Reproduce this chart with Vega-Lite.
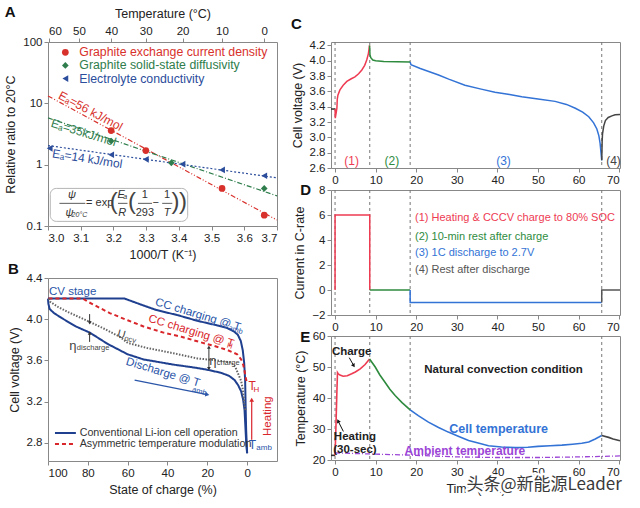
{
"$schema": "https://vega.github.io/schema/vega-lite/v6.json",
"padding": {"left": 4, "top": 4, "right": 4, "bottom": 2},
"background": "white",
"datasets": {
"aPts": [
{"x":3.193,"y":3.6,"s":"r"},{"x":3.299,"y":1.7,"s":"r"},{"x":3.532,"y":0.41,"s":"r"},{"x":3.661,"y":0.15,"s":"r"},
{"x":3.193,"y":2.43,"s":"g"},{"x":3.377,"y":1.07,"s":"g"},{"x":3.661,"y":0.41,"s":"g"},
{"x":3.005,"y":1.85,"s":"b"},{"x":3.193,"y":1.45,"s":"b"},{"x":3.299,"y":1.22,"s":"b"},{"x":3.411,"y":1.02,"s":"b"},{"x":3.532,"y":0.82,"s":"b"},{"x":3.661,"y":0.66,"s":"b"}
],
"aFit": [
{"x":3.0,"y":13.2,"s":"r"},{"x":3.7,"y":0.125,"s":"r"},
{"x":3.0,"y":5.8,"s":"g"},{"x":3.7,"y":0.31,"s":"g"},
{"x":3.0,"y":2.05,"s":"b"},{"x":3.7,"y":0.61,"s":"b"}
],
"aLeg": [
{"x":3.053,"y":68,"s":"r","t":"Graphite exchange current density"},
{"x":3.053,"y":41.5,"s":"g","t":"Graphite solid-state diffusivity"},
{"x":3.053,"y":25.3,"s":"b","t":"Electrolyte conductivity"}
],
"aEa": [
{"x":3.13,"y":7.5,"s":"r","t":"Eₐ=56 kJ/mol"},
{"x":3.109,"y":3.33,"s":"g","t":"Eₐ=35kJ/mol"},
{"x":3.12,"y":1.25,"s":"b","t":"Eₐ=14 kJ/mol"}
],
"aBox": [{"x":3.007,"x2":3.427,"y":0.119,"y2":0.41}],
"aF": [
{"x":3.073,"y":0.32,"t":"ψ","k":"i"},
{"x":3.066,"y":0.165,"t":"ψ","k":"i"},
{"x":3.158,"y":0.234,"t":"= exp","k":"n"},
{"x":3.224,"y":0.32,"t":"E","k":"i"},
{"x":3.227,"y":0.165,"t":"R","k":"i"},
{"x":3.296,"y":0.32,"t":"1","k":"n"},
{"x":3.296,"y":0.165,"t":"293","k":"n"},
{"x":3.329,"y":0.234,"t":"−","k":"n"},
{"x":3.364,"y":0.32,"t":"1","k":"n"},
{"x":3.364,"y":0.165,"t":"T","k":"i"},
{"x":3.201,"y":0.234,"t":"(","k":"p"},
{"x":3.257,"y":0.234,"t":"(","k":"p"},
{"x":3.390,"y":0.234,"t":")","k":"p"},
{"x":3.413,"y":0.234,"t":")","k":"p"},
{"x":3.096,"y":0.153,"t":"20°C","k":"s"},
{"x":3.236,"y":0.295,"t":"a","k":"s"}
],
"aFr": [
{"x":3.035,"x2":3.114,"y":0.234},
{"x":3.214,"x2":3.243,"y":0.234},
{"x":3.275,"x2":3.318,"y":0.234},
{"x":3.349,"x2":3.380,"y":0.234}
],
"bCur": [
{"soc":0,"bv":2.70,"c":"cc"},{"soc":0.5,"bv":2.93,"c":"cc"},{"soc":0.8,"bv":3.2,"c":"cc"},{"soc":1.0,"bv":3.41,"c":"cc"},{"soc":1.5,"bv":3.58,"c":"cc"},{"soc":2.2,"bv":3.70,"c":"cc"},{"soc":3.2,"bv":3.79,"c":"cc"},{"soc":4.7,"bv":3.85,"c":"cc"},{"soc":6.5,"bv":3.88,"c":"cc"},{"soc":10,"bv":3.915,"c":"cc"},{"soc":15,"bv":3.94,"c":"cc"},{"soc":25,"bv":3.985,"c":"cc"},{"soc":35,"bv":4.04,"c":"cc"},{"soc":45.7,"bv":4.09,"c":"cc"},{"soc":53,"bv":4.14,"c":"cc"},{"soc":61.5,"bv":4.2,"c":"cc"},{"soc":100,"bv":4.2,"c":"cc"},
{"soc":100,"bv":4.2,"c":"cd"},{"soc":99.8,"bv":4.15,"c":"cd"},{"soc":99.2,"bv":4.1,"c":"cd"},{"soc":97,"bv":4.06,"c":"cd"},{"soc":93,"bv":4.01,"c":"cd"},{"soc":86,"bv":3.93,"c":"cd"},{"soc":79,"bv":3.87,"c":"cd"},{"soc":70,"bv":3.76,"c":"cd"},{"soc":65,"bv":3.71,"c":"cd"},{"soc":60,"bv":3.66,"c":"cd"},{"soc":52,"bv":3.61,"c":"cd"},{"soc":43,"bv":3.58,"c":"cd"},{"soc":37,"bv":3.56,"c":"cd"},{"soc":26,"bv":3.53,"c":"cd"},{"soc":20,"bv":3.51,"c":"cd"},{"soc":13,"bv":3.48,"c":"cd"},{"soc":9,"bv":3.45,"c":"cd"},{"soc":6.3,"bv":3.41,"c":"cd"},{"soc":4.5,"bv":3.36,"c":"cd"},{"soc":3,"bv":3.30,"c":"cd"},{"soc":2,"bv":3.22,"c":"cd"},{"soc":1.3,"bv":3.12,"c":"cd"},{"soc":0.8,"bv":2.93,"c":"cd"},{"soc":0.4,"bv":2.78,"c":"cd"},{"soc":0,"bv":2.70,"c":"cd"},
{"soc":0.3,"bv":3.40,"c":"ac"},{"soc":0.8,"bv":3.44,"c":"ac"},{"soc":1.3,"bv":3.50,"c":"ac"},{"soc":2,"bv":3.56,"c":"ac"},{"soc":3,"bv":3.61,"c":"ac"},{"soc":5,"bv":3.66,"c":"ac"},{"soc":9.7,"bv":3.70,"c":"ac"},{"soc":16.4,"bv":3.74,"c":"ac"},{"soc":24,"bv":3.78,"c":"ac"},{"soc":33,"bv":3.83,"c":"ac"},{"soc":42,"bv":3.87,"c":"ac"},{"soc":52,"bv":3.93,"c":"ac"},{"soc":60,"bv":3.99,"c":"ac"},{"soc":69,"bv":4.06,"c":"ac"},{"soc":75,"bv":4.12,"c":"ac"},{"soc":80,"bv":4.17,"c":"ac"},{"soc":82.4,"bv":4.2,"c":"ac"},{"soc":100,"bv":4.2,"c":"ac"},
{"soc":99.5,"bv":4.2,"c":"ocv"},{"soc":99,"bv":4.17,"c":"ocv"},{"soc":95,"bv":4.12,"c":"ocv"},{"soc":90,"bv":4.07,"c":"ocv"},{"soc":80.8,"bv":3.99,"c":"ocv"},{"soc":72,"bv":3.91,"c":"ocv"},{"soc":64,"bv":3.83,"c":"ocv"},{"soc":59.9,"bv":3.77,"c":"ocv"},{"soc":50,"bv":3.72,"c":"ocv"},{"soc":37,"bv":3.67,"c":"ocv"},{"soc":25,"bv":3.62,"c":"ocv"},{"soc":15,"bv":3.60,"c":"ocv"},{"soc":8,"bv":3.58,"c":"ocv"},{"soc":6,"bv":3.54,"c":"ocv"},{"soc":4.7,"bv":3.48,"c":"ocv"},{"soc":3,"bv":3.40,"c":"ocv"},{"soc":2.2,"bv":3.32,"c":"ocv"},{"soc":1.3,"bv":3.16,"c":"ocv"},{"soc":0.8,"bv":3.12,"c":"ocv"}
],
"bLeg": [
{"soc":96.5,"soc2":86,"bv":2.897,"c":"cc","t":"Conventional Li-ion cell operation"},
{"soc":96.5,"soc2":86,"bv":2.79,"c":"ac","t":"Asymmetric temperature modulation"}
],
"bT": [
{"soc":99.5,"bv":4.26,"t":"CV stage","k":"b0"},
{"soc":24.7,"bv":4.04,"t":"CC charging @ T","k":"bA"},
{"soc":42.3,"bv":3.48,"t":"Discharge @ T","k":"bA"},
{"soc":5.8,"bv":3.895,"t":"amb","k":"bAs"},
{"soc":24.0,"bv":3.30,"t":"amb","k":"bAs"},
{"soc":28.1,"bv":3.88,"t":"CC charging @ T","k":"rA"},
{"soc":8.8,"bv":3.74,"t":"H","k":"rAs"},
{"soc":63.2,"bv":3.85,"t":"U","k":"gA"},
{"soc":58.7,"bv":3.80,"t":"ocv","k":"gAs"},
{"soc":87.5,"bv":3.745,"t":"η","k":"g0"},
{"soc":17.2,"bv":3.595,"t":"η","k":"g0"},
{"soc":85.5,"bv":3.72,"t":"discharge","k":"g0s"},
{"soc":15.3,"bv":3.575,"t":"charge","k":"g0s"},
{"soc":-2.5,"bv":3.35,"t":"T","k":"r0"},
{"soc":-4.6,"bv":3.315,"t":"H","k":"r0s"},
{"soc":-10.4,"bv":3.06,"t":"Heating","k":"rV"},
{"soc":-2.6,"bv":2.78,"t":"T","k":"b0T"},
{"soc":-4.6,"bv":2.755,"t":"amb","k":"b0s"}
],
"bR": [
{"soc":19.2,"bv":3.52,"soc2":19.2,"bv2":3.73,"k":"g"},
{"soc":79.1,"bv":4.05,"soc2":79.1,"bv2":3.97,"k":"g"},
{"soc":79.1,"bv":3.78,"soc2":79.1,"bv2":3.86,"k":"g"},
{"soc":-2.3,"bv":2.83,"soc2":-2.3,"bv2":3.21,"k":"r"},
{"soc":56.5,"bv":3.41,"soc2":20.5,"bv2":3.272,"k":"b"}
],
"bH": [
{"soc":-2.3,"bv":3.22,"k":"ur"},
{"soc":19.2,"bv":3.73,"k":"ug"},
{"soc":79.1,"bv":3.865,"k":"ug"},
{"soc":19.2,"bv":3.52,"k":"dg"},
{"soc":79.1,"bv":3.965,"k":"dg"},
{"soc":20.0,"bv":3.27,"k":"rb"}
],
"vl": [{"t":0},{"t":8.55},{"t":18.5},{"t":65.7}],
"cLine": [
{"t":-1,"cv":3.37,"p":"p0"},{"t":0,"cv":3.37,"p":"p0"},
{"t":0,"cv":3.37,"p":"p1"},{"t":0.05,"cv":3.25,"p":"p1"},{"t":0.3,"cv":3.33,"p":"p1"},{"t":0.45,"cv":3.38,"p":"p1"},{"t":0.55,"cv":3.5,"p":"p1"},{"t":0.7,"cv":3.55,"p":"p1"},{"t":1.2,"cv":3.62,"p":"p1"},{"t":2,"cv":3.68,"p":"p1"},{"t":2.9,"cv":3.73,"p":"p1"},{"t":4,"cv":3.765,"p":"p1"},{"t":4.9,"cv":3.79,"p":"p1"},{"t":5.8,"cv":3.83,"p":"p1"},{"t":6.6,"cv":3.88,"p":"p1"},{"t":7.3,"cv":3.94,"p":"p1"},{"t":7.8,"cv":4.01,"p":"p1"},{"t":8.2,"cv":4.09,"p":"p1"},{"t":8.5,"cv":4.2,"p":"p1"},
{"t":8.5,"cv":4.2,"p":"p2"},{"t":8.6,"cv":4.08,"p":"p2"},{"t":8.8,"cv":4.04,"p":"p2"},{"t":9.3,"cv":4.01,"p":"p2"},{"t":10,"cv":4.0,"p":"p2"},{"t":12,"cv":3.99,"p":"p2"},{"t":18.5,"cv":3.985,"p":"p2"},
{"t":18.5,"cv":3.985,"p":"p3"},{"t":18.7,"cv":3.95,"p":"p3"},{"t":21,"cv":3.9,"p":"p3"},{"t":25.5,"cv":3.815,"p":"p3"},{"t":28,"cv":3.76,"p":"p3"},{"t":32,"cv":3.68,"p":"p3"},{"t":36,"cv":3.63,"p":"p3"},{"t":39.4,"cv":3.59,"p":"p3"},{"t":43,"cv":3.56,"p":"p3"},{"t":46,"cv":3.53,"p":"p3"},{"t":50,"cv":3.5,"p":"p3"},{"t":54.2,"cv":3.47,"p":"p3"},{"t":57,"cv":3.43,"p":"p3"},{"t":59.2,"cv":3.38,"p":"p3"},{"t":61,"cv":3.33,"p":"p3"},{"t":62.5,"cv":3.27,"p":"p3"},{"t":63.7,"cv":3.19,"p":"p3"},{"t":64.5,"cv":3.11,"p":"p3"},{"t":65,"cv":3.02,"p":"p3"},{"t":65.3,"cv":2.92,"p":"p3"},{"t":65.7,"cv":2.7,"p":"p3"},
{"t":65.7,"cv":2.7,"p":"p4"},{"t":65.8,"cv":2.95,"p":"p4"},{"t":65.9,"cv":3.05,"p":"p4"},{"t":66.2,"cv":3.15,"p":"p4"},{"t":66.6,"cv":3.22,"p":"p4"},{"t":67.3,"cv":3.26,"p":"p4"},{"t":68.2,"cv":3.28,"p":"p4"},{"t":69,"cv":3.295,"p":"p4"},{"t":70.2,"cv":3.3,"p":"p4"}
],
"cLab": [
{"t":4.1,"cv":2.69,"lab":"(1)","p":"p1"},
{"t":14,"cv":2.69,"lab":"(2)","p":"p2"},
{"t":41.5,"cv":2.69,"lab":"(3)","p":"p3"},
{"t":68.6,"cv":2.69,"lab":"(4)","p":"p4"}
],
"dLine": [
{"t":0,"cur":0,"p":"p1"},{"t":0,"cur":6,"p":"p1"},{"t":8.55,"cur":6,"p":"p1"},{"t":8.55,"cur":0,"p":"p1"},
{"t":8.55,"cur":0,"p":"p2"},{"t":18.5,"cur":0,"p":"p2"},
{"t":18.5,"cur":0,"p":"p3"},{"t":18.5,"cur":-1,"p":"p3"},{"t":65.7,"cur":-1,"p":"p3"},
{"t":65.7,"cur":-1,"p":"p4"},{"t":65.7,"cur":0,"p":"p4"},{"t":70.2,"cur":0,"p":"p4"}
],
"dLab": [
{"t":19.7,"cur":5.73,"lab":"(1) Heating & CCCV charge to 80% SOC","p":"p1"},
{"t":19.7,"cur":4.27,"lab":"(2) 10-min rest after charge","p":"p2"},
{"t":19.7,"cur":2.93,"lab":"(3) 1C discharge to 2.7V","p":"p3"},
{"t":19.7,"cur":1.6,"lab":"(4) Rest after discharge","p":"p4"}
],
"dLet": [{"t":-8.6,"cur":8.0,"lab":"D"}],
"eLet": [{"t":-8.6,"temp":59.8,"lab":"E"}],
"eLine": [
{"t":-1,"temp":21.5,"p":"p0"},{"t":0,"temp":21.5,"p":"p0"},
{"t":0,"temp":21.5,"p":"p1"},{"t":0.2,"temp":30,"p":"p1"},{"t":0.45,"temp":42,"p":"p1"},{"t":0.6,"temp":48.2,"p":"p1"},{"t":0.8,"temp":47.8,"p":"p1"},{"t":1.2,"temp":47.4,"p":"p1"},{"t":2,"temp":47,"p":"p1"},{"t":3,"temp":47.2,"p":"p1"},{"t":4.1,"temp":47.8,"p":"p1"},{"t":5,"temp":48.4,"p":"p1"},{"t":6.2,"temp":49.4,"p":"p1"},{"t":7.4,"temp":50.8,"p":"p1"},{"t":8.5,"temp":52.6,"p":"p1"},
{"t":8.5,"temp":52.6,"p":"p2"},{"t":9.9,"temp":50,"p":"p2"},{"t":11,"temp":47.5,"p":"p2"},{"t":12.3,"temp":45.1,"p":"p2"},{"t":13.5,"temp":42.8,"p":"p2"},{"t":14.8,"temp":40.8,"p":"p2"},{"t":16.5,"temp":38.5,"p":"p2"},{"t":18.5,"temp":36.2,"p":"p2"},
{"t":18.5,"temp":36.2,"p":"p3"},{"t":20.5,"temp":34.3,"p":"p3"},{"t":23,"temp":32.2,"p":"p3"},{"t":25.5,"temp":30.5,"p":"p3"},{"t":27.9,"temp":29,"p":"p3"},{"t":30.5,"temp":27.6,"p":"p3"},{"t":32.9,"temp":26.3,"p":"p3"},{"t":35.5,"temp":25.4,"p":"p3"},{"t":37.8,"temp":24.6,"p":"p3"},{"t":41,"temp":24.2,"p":"p3"},{"t":44.4,"temp":24,"p":"p3"},{"t":47.5,"temp":24.1,"p":"p3"},{"t":50,"temp":24.4,"p":"p3"},{"t":53,"temp":24.6,"p":"p3"},{"t":55.9,"temp":24.8,"p":"p3"},{"t":58.5,"temp":25.1,"p":"p3"},{"t":60.8,"temp":25.4,"p":"p3"},{"t":62.5,"temp":25.8,"p":"p3"},{"t":64.1,"temp":26.8,"p":"p3"},{"t":65,"temp":27.4,"p":"p3"},{"t":65.7,"temp":27.9,"p":"p3"},
{"t":65.7,"temp":27.9,"p":"p4"},{"t":67.4,"temp":27.3,"p":"p4"},{"t":68.5,"temp":26.8,"p":"p4"},{"t":70.2,"temp":26.2,"p":"p4"}
],
"eAmb": [
{"t":0,"temp":22.3},{"t":5,"temp":22.1},{"t":10,"temp":21.9},{"t":20,"temp":21.5},{"t":30,"temp":21.0},{"t":40,"temp":20.8},{"t":50,"temp":20.8},{"t":60,"temp":21.0},{"t":70.2,"temp":21.3}
],
"eT": [
{"t":4.1,"temp":55,"lab":"Charge","k":"k"},
{"t":4.9,"temp":27.3,"lab":"Heating","k":"k"},
{"t":4.9,"temp":23.3,"lab":"(30-sec)","k":"k"},
{"t":41.5,"temp":48.9,"lab":"Natural convection condition","k":"k"},
{"t":40.3,"temp":30.0,"lab":"Cell temperature","k":"c"},
{"t":32,"temp":22.9,"lab":"Ambient temperature","k":"a"},
{"t":51.5,"temp":11.8,"lab":"头条@新能源Leader","k":"w"}
],
"eR": [
{"t":3.5,"temp":53.0,"t2":4.45,"temp2":50.8},
{"t":2.05,"temp":29.2,"t2":0.85,"temp2":32.3}
],
"eH": [
{"t":4.6,"temp":50.4,"k":"c"},
{"t":0.75,"temp":32.6,"k":"h"}
]
},
"hconcat": [
{
"spacing": -1,
"vconcat": [
{
"width": 229, "height": 184,
"title": {"text": "A", "offset": -13},
"layer": [
{
"encoding": {
"x": {"field": "x", "type": "quantitative", "scale": {"domain": [3.0, 3.7], "nice": false, "zero": false}, "axis": {"values": [3.0,3.1,3.2,3.3,3.4,3.5,3.6,3.7], "format": ".1f", "title": "1000/T (K⁻¹)"}},
"y": {"field": "y", "type": "quantitative", "scale": {"type": "log", "domain": [0.1, 100], "nice": false}, "axis": {"values": [0.1,1,10,100], "format": "~g", "title": "Relative ratio to 20°C"}}
},
"layer": [
{"data": {"name": "aBox"}, "mark": {"type": "rect", "fill": "white", "fillOpacity": 0, "stroke": "#b5b5b5", "strokeWidth": 1, "cornerRadius": 6}, "encoding": {"x2": {"field": "x2"}, "y2": {"field": "y2"}}},
{"data": {"name": "aFit"}, "mark": {"type": "line", "strokeWidth": 1.2}, "encoding": {
"color": {"field": "s", "type": "nominal", "scale": {"domain": ["r","g","b"], "range": ["#d8312c","#2f7d4c","#2b4d9b"]}, "legend": null},
"strokeDash": {"field": "s", "type": "nominal", "scale": {"domain": ["r","g","b"], "range": [[5,2,1,2,1,2],[5,2,1,2],[2,2]]}, "legend": null}}},
{"data": {"name": "aPts"}, "mark": {"type": "point", "filled": true, "size": 45, "opacity": 1}, "encoding": {
"color": {"field": "s", "type": "nominal", "legend": null},
"shape": {"field": "s", "type": "nominal", "scale": {"domain": ["r","g","b"], "range": ["circle","diamond","triangle-left"]}, "legend": null}}},
{"data": {"name": "aLeg"}, "mark": {"type": "point", "filled": true, "size": 45, "opacity": 1}, "encoding": {
"color": {"field": "s", "type": "nominal", "legend": null},
"shape": {"field": "s", "type": "nominal", "legend": null}}},
{"data": {"name": "aLeg"}, "mark": {"type": "text", "align": "left", "dx": 14, "fontSize": 12.3}, "encoding": {"text": {"field": "t"}, "color": {"field": "s", "type": "nominal", "legend": null}}},
{"data": {"name": "aEa"}, "transform": [{"filter": "datum.s == 'r'"}], "mark": {"type": "text", "fontSize": 12, "angle": 28, "color": "#d8312c"}, "encoding": {"text": {"field": "t"}}},
{"data": {"name": "aEa"}, "transform": [{"filter": "datum.s == 'g'"}], "mark": {"type": "text", "fontSize": 12, "angle": 17, "color": "#2f7d4c"}, "encoding": {"text": {"field": "t"}}},
{"data": {"name": "aEa"}, "transform": [{"filter": "datum.s == 'b'"}], "mark": {"type": "text", "fontSize": 12, "angle": 9, "color": "#2b4d9b"}, "encoding": {"text": {"field": "t"}}},
{"data": {"name": "aFr"}, "mark": {"type": "rule", "color": "#333", "strokeWidth": 0.8}, "encoding": {"x2": {"field": "x2"}}},
{"data": {"name": "aF"}, "transform": [{"filter": "datum.k == 'i'"}], "mark": {"type": "text", "fontSize": 11, "fontStyle": "italic", "color": "#333"}, "encoding": {"text": {"field": "t"}}},
{"data": {"name": "aF"}, "transform": [{"filter": "datum.k == 'n'"}], "mark": {"type": "text", "fontSize": 11, "color": "#333"}, "encoding": {"text": {"field": "t"}}},
{"data": {"name": "aF"}, "transform": [{"filter": "datum.k == 'p'"}], "mark": {"type": "text", "fontSize": 24, "fontWeight": 100, "color": "#444", "dy": -1}, "encoding": {"text": {"field": "t"}}},
{"data": {"name": "aF"}, "transform": [{"filter": "datum.k == 's'"}], "mark": {"type": "text", "fontSize": 7, "fontStyle": "italic", "color": "#333"}, "encoding": {"text": {"field": "t"}}}
]
},
{"data": {"name": "aPts"}, "mark": {"type": "point", "opacity": 0}, "encoding": {
"x": {"field": "x", "type": "quantitative", "scale": {"domain": [3.0, 3.7], "nice": false, "zero": false}, "axis": {"orient": "top", "values": [3.00165,3.09454,3.19336,3.2987,3.41122,3.5317,3.66099], "labelExpr": "format(1000/datum.value - 273.15, '.0f')", "title": "Temperature (°C)"}}}}
],
"resolve": {"axis": {"x": "independent"}}
},
{
"width": 229, "height": 183,
"title": {"text": "B", "offset": -5},
"encoding": {
"x": {"field": "soc", "type": "quantitative", "scale": {"domain": [-15, 100], "reverse": true, "nice": false, "zero": false}, "axis": {"values": [0,20,40,60,80,100], "title": "State of charge (%)"}},
"y": {"field": "bv", "type": "quantitative", "scale": {"domain": [2.625, 4.4], "nice": false, "zero": false}, "axis": {"values": [2.8,3.2,3.6,4.0,4.4], "format": ".1f", "title": "Cell voltage (V)"}}
},
"layer": [
{"data": {"name": "bCur"}, "mark": {"type": "line"}, "encoding": {
"color": {"field": "c", "type": "nominal", "scale": {"domain": ["cc","cd","ac","ocv"], "range": ["#1f3f8f","#1f3f8f","#d9262b","#666666"]}, "legend": null},
"strokeDash": {"field": "c", "type": "nominal", "scale": {"domain": ["cc","cd","ac","ocv"], "range": [[1,0],[1,0],[4,3],[1.5,1.5]]}, "legend": null},
"strokeWidth": {"field": "c", "type": "nominal", "scale": {"domain": ["cc","cd","ac","ocv"], "range": [2,2,2,1.1]}, "legend": null},
"order": {"value": null}}},
{"data": {"name": "bLeg"}, "mark": {"type": "rule"}, "encoding": {"x2": {"field": "soc2"},
"color": {"field": "c", "type": "nominal", "legend": null},
"strokeDash": {"field": "c", "type": "nominal", "legend": null},
"strokeWidth": {"field": "c", "type": "nominal", "legend": null}}},
{"data": {"name": "bLeg"}, "mark": {"type": "text", "align": "left", "fontSize": 10.7, "color": "#333"}, "encoding": {"x": {"datum": 84.1}, "text": {"field": "t"}}},
{"data": {"name": "bR"}, "transform": [{"filter": "datum.k == 'g'"}], "mark": {"type": "rule", "color": "#333", "strokeWidth": 1}, "encoding": {"x2": {"field": "soc2"}, "y2": {"field": "bv2"}}},
{"data": {"name": "bR"}, "transform": [{"filter": "datum.k == 'r'"}], "mark": {"type": "rule", "color": "#d9262b", "strokeWidth": 1.2}, "encoding": {"x2": {"field": "soc2"}, "y2": {"field": "bv2"}}},
{"data": {"name": "bR"}, "transform": [{"filter": "datum.k == 'b'"}], "mark": {"type": "rule", "color": "#2a55a8", "strokeWidth": 1.2}, "encoding": {"x2": {"field": "soc2"}, "y2": {"field": "bv2"}}},
{"data": {"name": "bH"}, "transform": [{"filter": "datum.k == 'ur'"}], "mark": {"type": "point", "shape": "triangle-up", "filled": true, "size": 22, "color": "#d9262b", "opacity": 1}, "encoding": {}},
{"data": {"name": "bH"}, "transform": [{"filter": "datum.k == 'ug'"}], "mark": {"type": "point", "shape": "triangle-up", "filled": true, "size": 14, "color": "#333", "opacity": 1}, "encoding": {}},
{"data": {"name": "bH"}, "transform": [{"filter": "datum.k == 'dg'"}], "mark": {"type": "point", "shape": "triangle-down", "filled": true, "size": 14, "color": "#333", "opacity": 1}, "encoding": {}},
{"data": {"name": "bH"}, "transform": [{"filter": "datum.k == 'rb'"}], "mark": {"type": "point", "shape": "triangle-right", "filled": true, "size": 22, "angle": 11, "color": "#2a55a8", "opacity": 1}, "encoding": {}},
{"data": {"name": "bT"}, "transform": [{"filter": "datum.k == 'b0'"}], "mark": {"type": "text", "align": "left", "fontSize": 11.5, "color": "#2a55a8"}, "encoding": {"text": {"field": "t"}}},
{"data": {"name": "bT"}, "transform": [{"filter": "datum.k == 'bA'"}], "mark": {"type": "text", "fontSize": 11.5, "angle": 17, "color": "#2a55a8"}, "encoding": {"text": {"field": "t"}}},
{"data": {"name": "bT"}, "transform": [{"filter": "datum.k == 'bAs'"}], "mark": {"type": "text", "fontSize": 7.5, "angle": 17, "color": "#2a55a8"}, "encoding": {"text": {"field": "t"}}},
{"data": {"name": "bT"}, "transform": [{"filter": "datum.k == 'rA'"}], "mark": {"type": "text", "fontSize": 11.5, "angle": 17, "color": "#d9262b"}, "encoding": {"text": {"field": "t"}}},
{"data": {"name": "bT"}, "transform": [{"filter": "datum.k == 'rAs'"}], "mark": {"type": "text", "fontSize": 7.5, "angle": 17, "color": "#d9262b"}, "encoding": {"text": {"field": "t"}}},
{"data": {"name": "bT"}, "transform": [{"filter": "datum.k == 'gA'"}], "mark": {"type": "text", "fontSize": 11, "angle": 15, "color": "#444"}, "encoding": {"text": {"field": "t"}}},
{"data": {"name": "bT"}, "transform": [{"filter": "datum.k == 'gAs'"}], "mark": {"type": "text", "fontSize": 7.5, "angle": 15, "color": "#444"}, "encoding": {"text": {"field": "t"}}},
{"data": {"name": "bT"}, "transform": [{"filter": "datum.k == 'g0'"}], "mark": {"type": "text", "fontSize": 13, "color": "#444"}, "encoding": {"text": {"field": "t"}}},
{"data": {"name": "bT"}, "transform": [{"filter": "datum.k == 'g0s'"}], "mark": {"type": "text", "align": "left", "fontSize": 7.5, "color": "#444"}, "encoding": {"text": {"field": "t"}}},
{"data": {"name": "bT"}, "transform": [{"filter": "datum.k == 'r0'"}], "mark": {"type": "text", "fontSize": 12, "color": "#d9262b"}, "encoding": {"text": {"field": "t"}}},
{"data": {"name": "bT"}, "transform": [{"filter": "datum.k == 'r0s'"}], "mark": {"type": "text", "fontSize": 8, "color": "#d9262b"}, "encoding": {"text": {"field": "t"}}},
{"data": {"name": "bT"}, "transform": [{"filter": "datum.k == 'rV'"}], "mark": {"type": "text", "fontSize": 11.5, "angle": 270, "color": "#d9262b"}, "encoding": {"text": {"field": "t"}}},
{"data": {"name": "bT"}, "transform": [{"filter": "datum.k == 'b0T'"}], "mark": {"type": "text", "fontSize": 12, "color": "#2a55a8"}, "encoding": {"text": {"field": "t"}}},
{"data": {"name": "bT"}, "transform": [{"filter": "datum.k == 'b0s'"}], "mark": {"type": "text", "align": "left", "fontSize": 8, "color": "#2a55a8"}, "encoding": {"text": {"field": "t"}}}
]
}
],
"resolve": {"scale": {"color": "independent", "strokeDash": "independent", "shape": "independent", "strokeWidth": "independent"}}
},
{
"spacing": -4,
"vconcat": [
{
"width": 289, "height": 126,
"title": {"text": "C", "offset": 7},
"encoding": {
"x": {"field": "t", "type": "quantitative", "scale": {"domain": [-1, 70.2], "nice": false, "zero": false}, "axis": {"values": [0,10,20,30,40,50,60,70], "title": null}},
"y": {"field": "cv", "type": "quantitative", "scale": {"domain": [2.6, 4.245], "nice": false, "zero": false}, "axis": {"values": [2.6,2.8,3.0,3.2,3.4,3.6,3.8,4.0,4.2], "format": ".1f", "title": "Cell voltage (V)"}}
},
"layer": [
{"data": {"name": "vl"}, "mark": {"type": "rule", "color": "#777", "strokeDash": [3,3], "strokeWidth": 1}, "encoding": {"y": {"value": 0}, "y2": {"value": 126}}},
{"data": {"name": "cLine"}, "mark": {"type": "line", "strokeWidth": 1.5}, "encoding": {
"color": {"field": "p", "type": "nominal", "scale": {"domain": ["p0","p1","p2","p3","p4"], "range": ["#333333","#ee3b52","#2e8b3e","#3373d6","#444444"]}, "legend": null},
"order": {"value": null}}},
{"data": {"name": "cLab"}, "mark": {"type": "text", "fontSize": 12}, "encoding": {"text": {"field": "lab"}, "color": {"field": "p", "type": "nominal", "legend": null}}}
]
},
{
"width": 289, "height": 125,
"encoding": {
"x": {"field": "t", "type": "quantitative", "scale": {"domain": [-1, 70.2], "nice": false, "zero": false}, "axis": {"values": [0,10,20,30,40,50,60,70], "title": null}},
"y": {"field": "cur", "type": "quantitative", "scale": {"domain": [-2, 8], "nice": false, "zero": false}, "axis": {"values": [-2,0,2,4,6,8], "title": "Current in C-rate"}}
},
"layer": [
{"data": {"name": "vl"}, "mark": {"type": "rule", "color": "#777", "strokeDash": [3,3], "strokeWidth": 1}, "encoding": {"y": {"value": 0}, "y2": {"value": 125}}},
{"data": {"name": "dLine"}, "mark": {"type": "line", "strokeWidth": 1.5}, "encoding": {
"color": {"field": "p", "type": "nominal", "scale": {"domain": ["p0","p1","p2","p3","p4"], "range": ["#333333","#ee3b52","#2e8b3e","#3373d6","#555555"]}, "legend": null},
"order": {"value": null}}},
{"data": {"name": "dLab"}, "mark": {"type": "text", "align": "left", "fontSize": 11}, "encoding": {"text": {"field": "lab"}, "color": {"field": "p", "type": "nominal", "legend": null}}},
{"data": {"name": "dLet"}, "mark": {"type": "text", "fontSize": 15, "fontWeight": "bold", "color": "#111", "align": "left"}, "encoding": {"text": {"field": "lab"}}}
]
},
{
"width": 289, "height": 124,
"encoding": {
"x": {"field": "t", "type": "quantitative", "scale": {"domain": [-1, 70.2], "nice": false, "zero": false}, "axis": {"values": [0,10,20,30,40,50,60,70], "title": "Time (min)"}},
"y": {"field": "temp", "type": "quantitative", "scale": {"domain": [20, 60], "nice": false, "zero": false}, "axis": {"values": [20,30,40,50,60], "title": "Temperature (°C)"}}
},
"layer": [
{"data": {"name": "vl"}, "mark": {"type": "rule", "color": "#777", "strokeDash": [3,3], "strokeWidth": 1}, "encoding": {"y": {"value": 0}, "y2": {"value": 124}}},
{"data": {"name": "eAmb"}, "mark": {"type": "line", "strokeWidth": 1.3, "color": "#9b45d6", "strokeDash": [5,2,1,2]}, "encoding": {}},
{"data": {"name": "eLine"}, "mark": {"type": "line", "strokeWidth": 1.6}, "encoding": {
"color": {"field": "p", "type": "nominal", "scale": {"domain": ["p0","p1","p2","p3","p4"], "range": ["#333333","#ee3b52","#2e8b3e","#3373d6","#444444"]}, "legend": null},
"order": {"value": null}}},
{"data": {"name": "eR"}, "mark": {"type": "rule", "color": "#111", "strokeWidth": 1}, "encoding": {"x2": {"field": "t2"}, "y2": {"field": "temp2"}}},
{"data": {"name": "eH"}, "transform": [{"filter": "datum.k == 'c'"}], "mark": {"type": "point", "shape": "triangle-down", "angle": 329, "filled": true, "size": 18, "color": "#111", "opacity": 1}, "encoding": {}},
{"data": {"name": "eH"}, "transform": [{"filter": "datum.k == 'h'"}], "mark": {"type": "point", "shape": "triangle-up", "angle": 334, "filled": true, "size": 18, "color": "#111", "opacity": 1}, "encoding": {}},
{"data": {"name": "eT"}, "transform": [{"filter": "datum.k == 'k'"}], "mark": {"type": "text", "fontSize": 11.5, "fontWeight": "bold", "color": "#222"}, "encoding": {"text": {"field": "lab"}}},
{"data": {"name": "eT"}, "transform": [{"filter": "datum.k == 'c'"}], "mark": {"type": "text", "fontSize": 12.5, "fontWeight": "bold", "color": "#3373d6"}, "encoding": {"text": {"field": "lab"}}},
{"data": {"name": "eT"}, "transform": [{"filter": "datum.k == 'a'"}], "mark": {"type": "text", "fontSize": 12, "fontWeight": "bold", "color": "#9b45d6"}, "encoding": {"text": {"field": "lab"}}},
{"data": {"name": "eT"}, "transform": [{"filter": "datum.k == 'w'"}], "mark": {"type": "text", "fontSize": 17, "font": "Noto Sans CJK SC", "color": "white", "stroke": "white", "strokeWidth": 5, "strokeJoin": "round"}, "encoding": {"text": {"field": "lab"}}},
{"data": {"name": "eT"}, "transform": [{"filter": "datum.k == 'w'"}], "mark": {"type": "text", "fontSize": 17, "font": "Noto Sans CJK SC", "color": "#3a3a3a"}, "encoding": {"text": {"field": "lab"}}},
{"data": {"name": "eLet"}, "mark": {"type": "text", "fontSize": 15, "fontWeight": "bold", "color": "#111", "align": "left"}, "encoding": {"text": {"field": "lab"}}}
]
}
],
"resolve": {"scale": {"color": "independent"}}
}
],
"spacing": 10,
"resolve": {"scale": {"color": "independent", "strokeDash": "independent", "shape": "independent", "strokeWidth": "independent"}},
"config": {
"font": "Liberation Sans",
"view": {"stroke": "#888", "strokeWidth": 1},
"axis": {"grid": false, "domain": false, "labelOverlap": false, "labelFontSize": 11.5, "titleFontSize": 12.5, "titleFontWeight": "normal", "labelColor": "#222", "titleColor": "#222", "tickColor": "#888", "tickSize": 4, "labelPadding": 2, "titlePadding": 5},
"title": {"fontSize": 15, "fontWeight": "bold", "anchor": "start", "frame": "bounds", "color": "#111"}
}
}
